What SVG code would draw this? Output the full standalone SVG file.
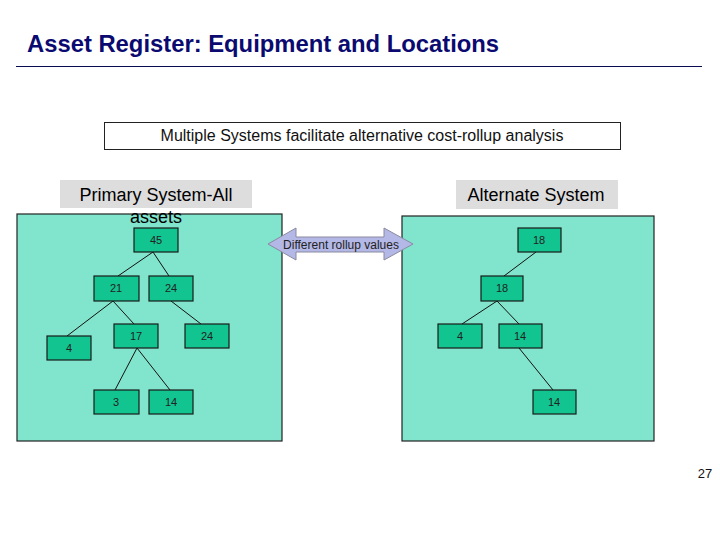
<svg xmlns="http://www.w3.org/2000/svg" width="720" height="540" viewBox="0 0 720 540">
<style>
text{font-family:"Liberation Sans",Arial,sans-serif;}
.node rect{fill:#12C48F;stroke:#1a1a1a;stroke-width:1.2;}
.node text{font-size:11px;fill:#222;text-anchor:middle;}
.panel{fill:#80E5CC;stroke:#222;stroke-width:1.2;}
.lbl{fill:#DDDDDD;}
.lbltxt{font-size:18px;fill:#000;text-anchor:middle;}
.conn line{stroke:#111;stroke-width:1;}
</style>
<rect width="720" height="540" fill="#fff"/>
<text x="27" y="52" font-size="23.8" font-weight="bold" fill="#0A0A70">Asset Register: Equipment and Locations</text>
<line x1="16" y1="66.5" x2="702" y2="66.5" stroke="#0A0A50" stroke-width="1.2"/>
<g id="banner">
<rect x="104.5" y="122.5" width="516" height="27" fill="#fff" stroke="#222" stroke-width="1"/>
<text x="362" y="141" font-size="16" text-anchor="middle" fill="#111">Multiple Systems facilitate alternative cost-rollup analysis</text>
</g>
<g id="primary-panel">
<rect class="panel" x="17" y="214" width="265" height="227"/>
<rect class="lbl" x="60" y="180" width="192" height="28"/>
<text class="lbltxt" x="156" y="201">Primary System-All</text>
<text class="lbltxt" x="156" y="223">assets</text>
</g>
<g id="alternate-panel">
<rect class="panel" x="402" y="216" width="252" height="225"/>
<rect class="lbl" x="456" y="180" width="162" height="29"/>
<text class="lbltxt" x="536" y="201">Alternate System</text>
</g>
<g class="conn" id="connectors">
<line x1="153" y1="252" x2="118" y2="276"/>
<line x1="153" y1="252" x2="169" y2="276"/>
<line x1="113" y1="301" x2="67" y2="336"/>
<line x1="113" y1="301" x2="134" y2="324"/>
<line x1="171" y1="301" x2="201" y2="324"/>
<line x1="137" y1="348" x2="115" y2="390"/>
<line x1="137" y1="348" x2="170" y2="390"/>
<line x1="536" y1="252" x2="504" y2="276"/>
<line x1="497" y1="301" x2="462" y2="324"/>
<line x1="497" y1="301" x2="519" y2="324"/>
<line x1="519" y1="348" x2="553" y2="390"/>
</g>
<g id="p45" class="node"><rect x="134" y="228" width="44" height="24"/><text x="156" y="244">45</text></g>
<g id="p21" class="node"><rect x="94" y="276" width="45" height="25"/><text x="116" y="292">21</text></g>
<g id="p24" class="node"><rect x="149" y="276" width="44" height="25"/><text x="171" y="292">24</text></g>
<g id="p4" class="node"><rect x="47" y="336" width="44" height="24"/><text x="69" y="352">4</text></g>
<g id="p17" class="node"><rect x="114" y="324" width="44" height="24"/><text x="136" y="340">17</text></g>
<g id="p24b" class="node"><rect x="185" y="324" width="44" height="24"/><text x="207" y="340">24</text></g>
<g id="p3" class="node"><rect x="94" y="390" width="45" height="24"/><text x="116" y="406">3</text></g>
<g id="p14" class="node"><rect x="149" y="390" width="44" height="24"/><text x="171" y="406">14</text></g>
<g id="a18" class="node"><rect x="518" y="228" width="43" height="24"/><text x="539" y="244">18</text></g>
<g id="a18b" class="node"><rect x="481" y="276" width="42" height="25"/><text x="502" y="292">18</text></g>
<g id="a4" class="node"><rect x="438" y="324" width="44" height="24"/><text x="460" y="340">4</text></g>
<g id="a14" class="node"><rect x="499" y="324" width="43" height="24"/><text x="520" y="340">14</text></g>
<g id="a14b" class="node"><rect x="533" y="390" width="43" height="24"/><text x="554" y="406">14</text></g>
<g id="rollup-arrow">
<polygon points="268,244 296,228 296,237 384,237 384,228 413,244 384,260 384,252 296,252 296,260" fill="#B4B8E6" stroke="#8A8AA0" stroke-width="1"/>
<text x="341" y="248.5" font-size="12" text-anchor="middle" fill="#222">Different rollup values</text>
</g>
<text x="705" y="478" font-size="13" text-anchor="middle" fill="#111">27</text>
</svg>
